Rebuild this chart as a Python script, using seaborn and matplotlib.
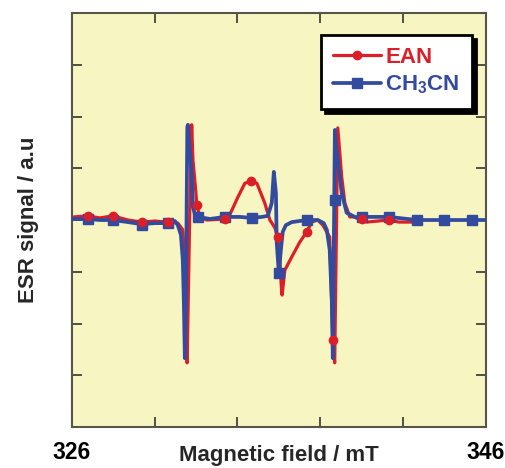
import numpy as np
import pandas as pd
import matplotlib
matplotlib.use("Agg")
import matplotlib.pyplot as plt
from matplotlib.lines import Line2D
import seaborn as sns

# --- datos (campo en mT, señal en u.a.) ---
ch3cn_field = [326.00, 326.77, 327.35, 327.98, 328.71, 329.38, 330.01, 330.64, 330.98,
               331.12, 331.27, 331.36, 331.41, 331.46, 331.51, 331.55, 331.58, 331.61,
               331.70, 331.80, 331.85, 331.94, 332.09, 332.67, 333.39, 334.12, 334.70,
               335.18, 335.47, 335.66, 335.76, 335.86, 335.90, 336.00, 336.10, 336.19,
               336.34, 336.63, 337.35, 337.88, 338.17, 338.32, 338.46, 338.56, 338.61,
               338.66, 338.71, 338.75, 338.85, 339.04, 339.28, 339.77, 340.01, 341.31,
               342.67, 343.97, 345.32, 346.00]
ch3cn_signal = [0.02, 0.02, 0.00, 0.00, -0.04, -0.08, -0.06, -0.06, -0.02,
                -0.10, -0.29, -0.77, -1.55, -2.67, -1.55, 0.39, 1.80, 1.84,
                1.35, 0.83, 0.25, 0.12, 0.06, 0.02, 0.06, 0.06, 0.04,
                0.06, 0.08, 0.33, 0.93, 0.52, -0.44, -1.02, -0.58, -0.23,
                -0.10, -0.04, 0.00, 0.00, -0.06, -0.19, -0.58, -1.55, -2.67,
                -0.44, 1.74, 1.50, 1.16, 0.52, 0.14, 0.04, 0.06, 0.06,
                0.00, 0.00, 0.00, 0.00]

ean_field = [326.10, 326.77, 327.35, 327.98, 328.71, 329.38, 330.01, 330.64, 331.12,
             331.36, 331.51, 331.57, 331.70, 331.79, 331.85, 331.99, 332.04, 332.18,
             332.52, 333.39, 333.63, 334.02, 334.36, 334.65, 334.94, 335.32, 335.57,
             335.81, 335.95, 336.05, 336.14, 336.16, 336.29, 336.63, 337.01, 337.35,
             337.59, 337.88, 338.13, 338.46, 338.61, 338.70, 338.85, 339.04, 339.19,
             339.43, 339.77, 340.25, 341.31, 341.80, 342.43]
ean_signal = [0.06, 0.08, 0.04, 0.08, 0.00, -0.04, -0.02, -0.04, -0.06,
              -0.19, -1.10, -2.76, 0.19, 1.84, 1.16, 0.55, 0.29, 0.06,
              0.00, 0.02, 0.10, 0.44, 0.71, 0.75, 0.71, 0.33, 0.00,
              -0.15, -0.33, -0.77, -1.41, -1.45, -0.97, -0.71, -0.43, -0.23,
              -0.04, 0.00, -0.10, -0.33, -2.32, -2.76, 1.78, 0.83, 0.33,
              0.06, 0.06, -0.04, 0.00, -0.04, -0.04]

# posiciones de los marcadores
ch3cn_mark_field = [326.77, 327.98, 329.38, 330.64, 332.09, 333.39, 334.70, 336.00,
                    337.35, 338.71, 340.01, 341.31, 342.67, 343.97, 345.32]
ch3cn_mark_signal = [0.02, 0.00, -0.10, -0.06, 0.06, 0.06, 0.04, -1.02,
                     0.00, 0.39, 0.06, 0.06, 0.00, 0.00, 0.00]
ean_mark_field = [326.77, 327.98, 329.38, 330.64, 332.04, 333.39, 334.65, 335.95,
                  337.35, 338.61, 340.01, 341.31]
ean_mark_signal = [0.08, 0.08, -0.04, -0.04, 0.29, 0.02, 0.75, -0.33,
                   -0.23, -2.32, 0.02, 0.00]

x_ticks = [326, 330, 334, 338, 342, 346]
x_tick_labels = ['326', '', '', '', '', '346']
y_ticks = [-3, -2, -1, 0, 1, 2, 3]

red = '#DC1E28'
blue = '#324B9E'

sns.set_theme(style="ticks")
plt.rcParams['font.family'] = ['Liberation Sans', 'DejaVu Sans']
plt.rcParams['mathtext.fontset'] = 'custom'
plt.rcParams['mathtext.rm'] = 'Liberation Sans'
plt.rcParams['mathtext.bf'] = 'Liberation Sans:bold'

fig = plt.figure(figsize=(5.06, 4.68), dpi=100)
ax = fig.add_axes([0.142, 0.0876, 0.818, 0.8846])
ax.set_facecolor('#F7F5C2')

df_ean = pd.DataFrame({'campo': ean_field, 'senal': ean_signal})
df_ch3cn = pd.DataFrame({'campo': ch3cn_field, 'senal': ch3cn_signal})

sns.lineplot(data=df_ean, x='campo', y='senal', ax=ax, color=red, lw=2.3,
             sort=False, estimator=None, zorder=2)
sns.lineplot(data=df_ch3cn, x='campo', y='senal', ax=ax, color=blue, lw=2.7,
             sort=False, estimator=None, zorder=3)
ax.plot(ch3cn_mark_field, ch3cn_mark_signal, ls='none', marker='s', ms=6.5,
        color=blue, zorder=4)
ax.plot(ean_mark_field, ean_mark_signal, ls='none', marker='o', ms=6,
        color=red, zorder=5)

ax.set_xlim(326, 346)
ax.set_ylim(-4, 4)
ax.set_xticks(x_ticks)
ax.set_xticklabels(x_tick_labels, fontsize=16.5, fontweight='bold')
ax.set_yticks(y_ticks)
ax.set_yticklabels([])
ax.tick_params(direction='in', length=7, width=1.2, top=True, right=True,
               colors='#333333', labelcolor='black', pad=10)
for s in ax.spines.values():
    s.set_linewidth(1.5)
    s.set_color('#555548')

ax.set_xlabel('Magnetic field / mT', fontsize=16, fontweight='bold')
ax.xaxis.set_label_coords(0.5, -0.043)
ax.set_ylabel('ESR signal / a.u', fontsize=16, fontweight='bold', labelpad=14)

handles = [Line2D([], [], color=red, lw=2.3, marker='o', ms=6),
           Line2D([], [], color=blue, lw=2.7, marker='s', ms=6.5)]
leg = ax.legend(handles, ['EAN', r'CH$_\mathbf{3}$CN'], loc='upper right',
                bbox_to_anchor=(0.966, 0.947), borderaxespad=0, fancybox=False,
                framealpha=1, edgecolor='black', handlelength=2.15,
                handletextpad=0.2, labelspacing=0.25, borderpad=0.55,
                prop={'weight': 'bold', 'size': 16},
                shadow={'color': 'black', 'alpha': 1, 'ox': 3, 'oy': -3})
leg.get_frame().set_linewidth(2)
for t, c in zip(leg.get_texts(), [red, blue]):
    t.set_color(c)

fig.savefig('out.png', dpi=100)
